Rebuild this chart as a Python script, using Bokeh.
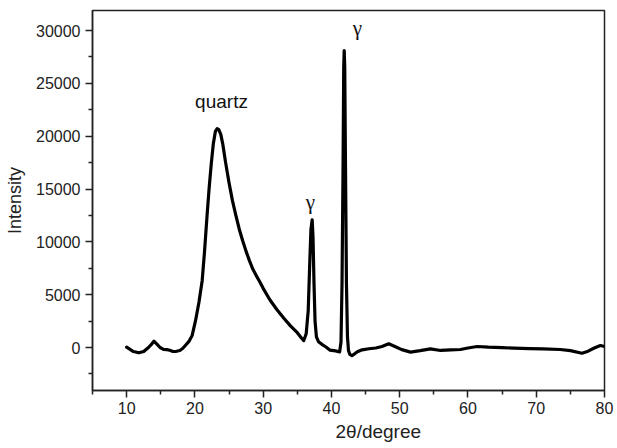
from bokeh.plotting import figure
from bokeh.models import Range1d, FixedTicker, Label, Title
from bokeh.embed import file_html
from bokeh.resources import INLINE

# 2-theta (degree) and intensity
two_theta = [10.0, 10.5, 11.0, 11.8, 12.5, 13.2, 13.7, 14.0, 14.4, 14.9, 15.4, 15.9, 16.3,
             16.8, 17.3, 17.8, 18.2, 18.6, 19.1, 19.6, 20.1, 20.6, 21.07, 21.4, 21.8, 22.1,
             22.4, 22.7, 23.0, 23.26, 23.5, 23.8, 24.1, 24.5, 25.0, 25.5, 26.0, 26.5, 27.0,
             27.5, 28.0, 28.5, 29.0, 29.6, 30.0, 31.0, 32.0, 33.0, 34.0, 35.0, 35.6, 35.95,
             36.3, 36.6, 36.85, 37.0, 37.18, 37.3, 37.45, 37.6, 37.8, 38.1, 38.6, 39.2, 39.8,
             40.6, 41.2, 41.4, 41.55, 41.7, 41.8, 41.87, 41.95, 42.05, 42.2, 42.35, 42.5,
             42.7, 43.0, 43.4, 43.8, 44.5, 45.5, 46.5, 47.4, 48.4, 49.3, 50.3, 51.6, 53.0,
             54.5, 56.0, 57.5, 58.9, 60.0, 61.35, 63.0, 65.0, 66.7, 69.0, 71.0, 73.5, 75.0,
             76.7, 77.6, 78.5, 79.4, 80.0]
intensity = [30, -180, -380, -500, -380, 0, 350, 600, 350, 0, -170, -200, -260,
             -380, -360, -280, -100, 190, 550, 1140, 2560, 4300, 6345, 9000, 12660, 15200,
             17400, 19300, 20450, 20710, 20620, 20150, 19200, 17500, 15600, 13900, 12500, 11200, 10100,
             9100, 8200, 7400, 6800, 6100, 5600, 4500, 3600, 2800, 2050, 1400, 900, 660,
             1300, 3500, 8500, 11200, 12090, 10500, 6000, 2500, 1000, 550, 300, 50, -250,
             -320, -420, 500, 6000, 17000, 26500, 28100, 26500, 18000, 6000, 1000, -300,
             -650, -760, -600, -400, -220, -120, -50, 100, 350, 100, -200, -440, -300,
             -125, -280, -230, -190, -50, 95, 30, -20, -60, -100, -130, -190, -300,
             -540, -350, -50, 190, 95]

x_ticks = [10, 20, 30, 40, 50, 60, 70, 80]
x_minor = [5, 15, 25, 35, 45, 55, 65, 75]
y_ticks = [0, 5000, 10000, 15000, 20000, 25000, 30000]
y_minor = [-2500, 2500, 7500, 12500, 17500, 22500, 27500]

p = figure(width=617, height=448, output_backend="svg", toolbar_location=None,
           x_range=Range1d(5, 80), y_range=Range1d(-4070, 31900),
           min_border_left=92, min_border_right=13, min_border_top=10, min_border_bottom=58)
p.background_fill_color = "white"
p.border_fill_color = "white"
p.grid.visible = False
p.outline_line_color = "#222222"
p.outline_line_width = 1.5

p.line(two_theta, intensity, line_color="black", line_width=3.2, line_join="round", line_cap="round")

for ax in (p.xaxis[0], p.yaxis[0]):
    ax.axis_line_color = "#222222"
    ax.axis_line_width = 1.5
    ax.major_tick_line_color = "#222222"
    ax.minor_tick_line_color = "#222222"
    ax.major_tick_line_width = 1.5
    ax.minor_tick_line_width = 1.5
    ax.major_tick_out = 7
    ax.major_tick_in = 0
    ax.minor_tick_out = 4
    ax.minor_tick_in = 0
    ax.major_label_text_font = "Liberation Sans"
    ax.major_label_text_font_size = "16px"
    ax.major_label_text_color = "#222222"
    ax.axis_label_text_font = "Liberation Sans"
    ax.axis_label_text_font_style = "normal"
    ax.axis_label_text_color = "#222222"

p.xaxis[0].ticker = FixedTicker(ticks=x_ticks, minor_ticks=x_minor)
p.yaxis[0].ticker = FixedTicker(ticks=y_ticks, minor_ticks=y_minor)
p.yaxis[0].axis_label = "Intensity"
p.yaxis[0].axis_label_text_font_size = "18px"
p.xaxis[0].major_label_standoff = 4
p.yaxis[0].major_label_standoff = 5
p.yaxis[0].axis_label_standoff = 8

p.add_layout(Title(text="2θ/degree", align="left", offset=243, text_font="Liberation Sans",
                   text_font_size="19px", text_font_style="normal", text_color="#222222",
                   vertical_align="top", standoff=8), "below")
p.add_layout(Label(x=23.9, y=23300, text="quartz", text_font="Liberation Sans",
                   text_font_size="19px", text_align="center", text_baseline="middle",
                   text_color="#111111"))
p.add_layout(Label(x=36.9, y=13800, text="γ", text_font="Liberation Serif",
                   text_font_size="21px", text_align="center", text_baseline="middle",
                   text_color="#111111"))
p.add_layout(Label(x=43.8, y=30200, text="γ", text_font="Liberation Serif",
                   text_font_size="21px", text_align="center", text_baseline="middle",
                   text_color="#111111"))

open("out.html", "w").write(file_html(p, INLINE))
